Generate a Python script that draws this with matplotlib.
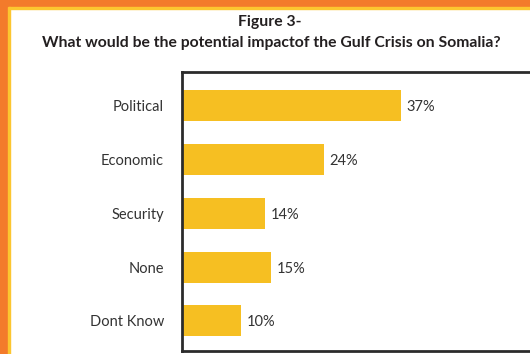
import matplotlib.pyplot as plt
from matplotlib.patches import Rectangle

# data
categories = ['Political', 'Economic', 'Security', 'None', 'Dont Know']
values = [37, 24, 14, 15, 10]
labels = ['37%', '24%', '14%', '15%', '10%']

W, H = 530, 354
fig = plt.figure(figsize=(W / 100, H / 100), dpi=100)
fig.patch.set_facecolor('white')
plt.rcParams['font.family'] = ['Lato', 'DejaVu Sans']

# orange frame on the top and left
orange = '#F37B2B'
yellow = '#FCC630'
fig.patches.append(Rectangle((0, 1 - 7 / H), 1, 7 / H, transform=fig.transFigure,
                             color=orange, zorder=0))
fig.patches.append(Rectangle((0, 1 - 9 / H), 1, 2 / H, transform=fig.transFigure,
                             color=yellow, zorder=0))
fig.patches.append(Rectangle((0, 0), 8 / W, 1, transform=fig.transFigure,
                             color=orange, zorder=0))
fig.patches.append(Rectangle((8 / W, 0), 2 / W, 1 - 7 / H, transform=fig.transFigure,
                             color=yellow, zorder=0))

fig.text(270 / W, 1 - 22 / H, 'Figure 3-', ha='center', va='center',
         fontsize=11.3, fontweight='bold', color='#231F20')
fig.text(271 / W, 1 - 43 / H,
         'What would be the potential impactof the Gulf Crisis on Somalia?',
         ha='center', va='center', fontsize=11.3, fontweight='bold', color='#231F20')

# axes box: left 182px, top 72px, bottom 351px, runs past the right edge
ax = fig.add_axes([182 / W, 1 - 351 / H, (540 - 182) / W, (351 - 72) / H])
y = list(range(len(categories)))
ax.barh(y, values, height=0.58, color='#F6BF22')
ax.set_xlim(0, (540 - 182) / 5.92)
ax.set_ylim(4.56, -0.63)

for yi, v, lab in zip(y, values, labels):
    ax.annotate(lab, (v, yi), xytext=(4, -1), textcoords='offset points',
                ha='left', va='center', fontsize=10.5, color='#333333')

ax.set_yticks(y)
ax.set_yticklabels(categories, fontsize=10.5, color='#333333')
ax.set_xticks([])
ax.tick_params(axis='y', length=0, pad=13)
for s in ax.spines.values():
    s.set_linewidth(2)
    s.set_color('#2B2B2B')

fig.savefig('out.png', dpi=100)
